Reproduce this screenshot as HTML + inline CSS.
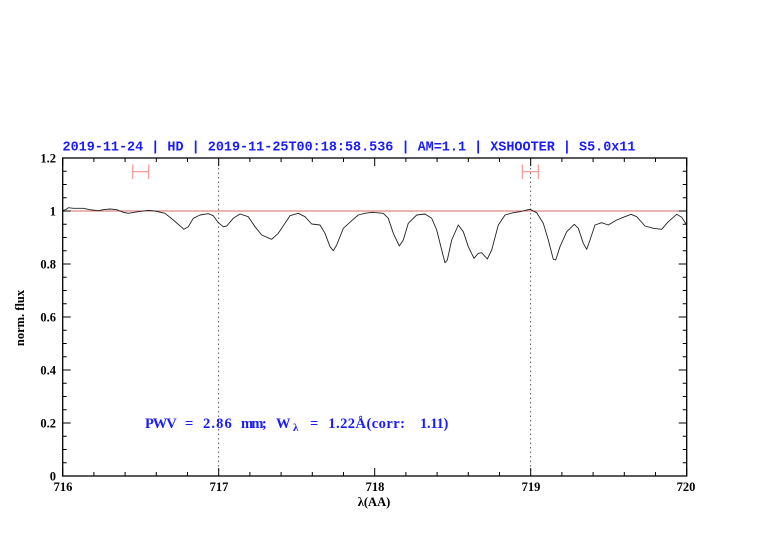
<!DOCTYPE html>
<html><head><meta charset="utf-8"><style>
html,body{margin:0;padding:0;background:#fff;}
svg{display:block;}
</style></head><body>
<svg width="782" height="542" viewBox="0 0 782 542" xmlns="http://www.w3.org/2000/svg">
<rect width="782" height="542" fill="#fff"/>
<!-- title -->
<text x="62.5" y="150.5" font-family="Liberation Mono, monospace" font-weight="bold" font-size="13.5" fill="#1a1aff" textLength="573" lengthAdjust="spacingAndGlyphs">2019-11-24 | HD | 2019-11-25T00:18:58.536 | AM=1.1 | XSHOOTER | S5.0x11</text>
<!-- dotted verticals -->
<line x1="218.7" y1="159" x2="218.7" y2="476" stroke="#333" stroke-width="0.8" stroke-dasharray="1.5,3"/>
<line x1="530.7" y1="159" x2="530.7" y2="476" stroke="#333" stroke-width="0.8" stroke-dasharray="1.5,3"/>
<!-- y=1 line -->
<line x1="62.7" y1="211" x2="686.7" y2="211" stroke="#d46a6a" stroke-width="0.9"/>
<!-- error bars -->
<g stroke="#f29090" stroke-width="1.1" fill="none">
<line x1="132.7" y1="171.7" x2="148.7" y2="171.7"/>
<line x1="132.7" y1="164.5" x2="132.7" y2="179"/>
<line x1="148.7" y1="164.5" x2="148.7" y2="179"/>
<line x1="522.3" y1="171.7" x2="538.3" y2="171.7"/>
<line x1="522.3" y1="164.5" x2="522.3" y2="179"/>
<line x1="538.3" y1="164.5" x2="538.3" y2="179"/>
</g>
<!-- spectrum -->
<polyline fill="none" stroke="#222" stroke-width="0.9" stroke-linejoin="round" points="62.7,210.5 66,209.5 68.3,207.7 73.3,208.3 83.3,208.3 90,209.7 98.3,210.7 103.3,209.7 110,209 116.7,209.7 123.3,212.3 128.3,213.3 138.3,211.7 148.3,210.3 155,211 165,213.3 173.3,220 184,229.3 188.3,226.7 193.3,218.3 200,215 208.3,213.7 213.3,215.7 218.3,222.7 223.3,226.7 226.7,226 233.3,218.3 240,214 248.3,216.7 255,226.7 261.7,235 271.7,239.3 278.3,233.3 285,223.3 290,215.7 298.3,213.3 305,216.7 311.7,224 320,225 325,233.3 330,246.7 333.3,250.7 336.7,245 343.3,228.3 351.7,220.7 358.3,215 365,213.3 371.7,212.3 383.3,213.3 388.3,218.3 393.3,233.3 399.3,246 403.3,240 408.3,223.3 416.7,215 425,214 431.7,218.3 436.7,230 441.7,250 445,262.7 447.3,260 451.7,240 458.3,225 463.3,231.7 468.3,246.7 474,258.3 478.3,253.3 481.7,252.7 487.3,259 491.7,250 498.3,225 505,215 513.3,212.7 520,211.7 526.7,210 530,209.3 536.7,212.7 543.3,223.3 548.3,240 553.3,259.3 555.7,260 560,246.7 566.7,231.7 574.3,224.3 578.3,228.3 583.3,243.3 586.7,249.3 590,240 595,225 601.7,222.7 608.3,225 616.7,220 623.3,217.3 631,214.3 636.7,216.7 645,226 653.3,228.3 661.7,229.3 668.3,221.7 676.7,214.3 681.7,217.3 686.7,225"/>
<!-- frame -->
<rect x="62.7" y="158" width="624" height="318" fill="none" stroke="#000" stroke-width="1.3"/>
<!-- ticks -->
<g stroke="#000" stroke-width="1">
<path d="M62.7,476v-8M218.7,476v-8M374.7,476v-8M530.7,476v-8M686.7,476v-8
M62.7,158v8M218.7,158v8M374.7,158v8M530.7,158v8M686.7,158v8"/>
<path d="M93.9,476v-4M125.1,476v-4M156.3,476v-4M187.5,476v-4
M249.9,476v-4M281.1,476v-4M312.3,476v-4M343.5,476v-4
M405.9,476v-4M437.1,476v-4M468.3,476v-4M499.5,476v-4
M561.9,476v-4M593.1,476v-4M624.3,476v-4M655.5,476v-4
M93.9,158v4M125.1,158v4M156.3,158v4M187.5,158v4
M249.9,158v4M281.1,158v4M312.3,158v4M343.5,158v4
M405.9,158v4M437.1,158v4M468.3,158v4M499.5,158v4
M561.9,158v4M593.1,158v4M624.3,158v4M655.5,158v4"/>
<path d="M62.7,476h8M62.7,423h8M62.7,370h8M62.7,317h8M62.7,264h8M62.7,211h8M62.7,158h8
M686.7,476h-8M686.7,423h-8M686.7,370h-8M686.7,317h-8M686.7,264h-8M686.7,211h-8M686.7,158h-8"/>
<path d="M62.7,462.75h4M62.7,449.5h4M62.7,436.25h4
M62.7,409.75h4M62.7,396.5h4M62.7,383.25h4
M62.7,356.75h4M62.7,343.5h4M62.7,330.25h4
M62.7,303.75h4M62.7,290.5h4M62.7,277.25h4
M62.7,250.75h4M62.7,237.5h4M62.7,224.25h4
M62.7,197.75h4M62.7,184.5h4M62.7,171.25h4
M686.7,462.75h-4M686.7,449.5h-4M686.7,436.25h-4
M686.7,409.75h-4M686.7,396.5h-4M686.7,383.25h-4
M686.7,356.75h-4M686.7,343.5h-4M686.7,330.25h-4
M686.7,303.75h-4M686.7,290.5h-4M686.7,277.25h-4
M686.7,250.75h-4M686.7,237.5h-4M686.7,224.25h-4
M686.7,197.75h-4M686.7,184.5h-4M686.7,171.25h-4"/>
</g>
<!-- tick labels -->
<g font-family="Liberation Serif, serif" font-weight="bold" font-size="12.5" fill="#000">
<g text-anchor="middle">
<text x="63" y="491">716</text>
<text x="219" y="491">717</text>
<text x="375" y="491">718</text>
<text x="531" y="491">719</text>
<text x="686" y="491">720</text>
</g>
<g text-anchor="end">
<text x="56" y="480.5">0</text>
<text x="56" y="427.5">0.2</text>
<text x="56" y="374.5">0.4</text>
<text x="56" y="321.5">0.6</text>
<text x="56" y="268.5">0.8</text>
<text x="56" y="215.5">1</text>
<text x="56" y="162.5">1.2</text>
</g>
<text x="374" y="506" text-anchor="middle">λ(AA)</text>
<text transform="translate(24,318) rotate(-90)" text-anchor="middle">norm. flux</text>
</g>
<!-- PWV text -->
<g font-family="Liberation Serif, serif" font-weight="bold" font-size="14.5" fill="#1a1aff">
<text x="145" y="428" textLength="31.7" lengthAdjust="spacing">PWV</text>
<text x="185" y="428">=</text>
<text x="203" y="428" textLength="28.7" lengthAdjust="spacing">2.86</text>
<text x="241" y="428" textLength="25.7" lengthAdjust="spacing">mm;</text>
<text x="276" y="428">W</text>
<text x="293" y="431" font-size="11">λ</text>
<text x="310" y="428">=</text>
<text x="328.3" y="428" textLength="76.7" lengthAdjust="spacing">1.22Å(corr:</text>
<text x="420" y="428" textLength="28.3" lengthAdjust="spacing">1.11)</text>
</g>
</svg>
</body></html>
